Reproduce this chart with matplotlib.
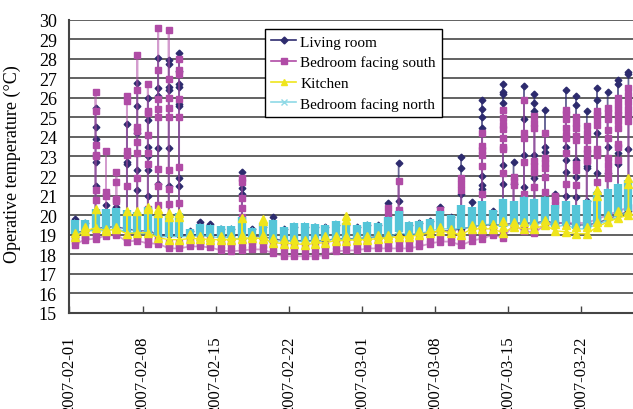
import matplotlib
matplotlib.use('Agg')
import matplotlib.pyplot as plt
import matplotlib.dates as mdates
from matplotlib.lines import Line2D
import pandas as pd

plt.rcParams['font.family'] = ['Liberation Serif', 'DejaVu Serif']

days = pd.date_range('2007-02-01', periods=54, freq='D')
tick_dates = pd.date_range('2007-02-01', '2007-03-22', freq='7D')

# readings per day (°C)
living = [
    [19.1, 19.8], [19.2, 19.6], [19.3, 21.5, 22.7, 23.9, 24.5, 25.5], [19.4, 20.5],
    [19.4, 20.4], [19.3, 22.6, 22.7, 24.65], [19.2, 21.3, 22.3, 24.2, 25.6, 26.75],
    [19.2, 21.0, 22.3, 23.0, 23.5, 24.85, 26.0], [19.0, 21.6, 23.45, 26.1, 26.5, 28.05],
    [19.0, 21.5, 23.45, 26.4, 26.55, 27.75, 27.95],
    [19.0, 21.5, 21.9, 25.6, 25.7, 26.55, 26.7, 27.35, 28.3],
    [19.0, 19.2], [19.0, 19.65], [19.0, 19.55], [18.95, 19.3], [18.95, 19.3],
    [19.0, 21.1, 21.4, 22.2], [18.95, 19.3], [18.9, 19.4], [18.8, 19.9],
    [18.7, 19.3], [18.7, 19.4], [18.7, 19.4], [18.7, 19.4], [18.7, 19.4],
    [18.8, 19.5], [18.8, 19.5], [18.8, 19.4], [18.85, 19.5], [18.9, 19.5],
    [18.9, 20.6], [19.0, 20.7, 22.65], [19.0, 19.5], [19.05, 19.6], [19.1, 19.7],
    [19.2, 20.4], [19.2, 19.9], [19.3, 21.1, 22.4, 22.97], [19.4, 20.65],
    [19.5, 21.35, 21.55, 22.0, 24.45, 25.0, 25.45, 25.87], [19.5, 20.2],
    [19.5, 21.6, 22.55, 25.75, 26.2, 26.3, 26.7], [19.6, 21.6, 22.7],
    [19.6, 21.45, 23.1, 24.9, 26.6], [19.6, 21.9, 23.1, 25.3, 25.75, 26.2],
    [19.7, 23.25, 23.5, 25.4], [19.6, 21.1],
    [19.6, 21.0, 22.2, 22.8, 23.5, 26.4], [19.5, 20.95, 21.97, 22.8, 25.65, 26.1],
    [19.5, 20.7, 22.4, 22.5, 23.0, 25.3], [19.6, 21.2, 22.15, 24.2, 25.9, 26.5],
    [19.8, 22.15, 23.5, 26.3], [20.0, 22.6, 23.2, 26.7, 26.9], [20.2, 23.4, 27.2, 27.3],
]
south = [
    [18.5, 18.7, 18.85], [18.75, 18.9, 19.0],
    [18.8, 19.0, 20.75, 21.3, 23.0, 23.1, 23.6, 25.3, 26.3],
    [18.95, 19.1, 21.0, 21.2, 23.3], [19.0, 19.1, 20.7, 20.85, 21.7, 22.2],
    [18.65, 18.9, 21.5, 23.1, 23.3, 25.85, 26.1],
    [18.7, 18.9, 21.9, 23.2, 23.75, 24.3, 24.5, 26.4, 28.2],
    [18.55, 18.75, 18.9, 20.3, 22.6, 23.2, 24.1, 25.2, 25.3, 26.7],
    [18.55, 18.7, 18.85, 20.5, 21.5, 22.35, 25.0, 25.45, 25.95, 27.4, 29.55],
    [18.3, 18.45, 18.6, 20.55, 21.35, 22.3, 25.0, 25.5, 26.0, 26.95, 29.45],
    [18.3, 18.45, 18.6, 20.6, 22.45, 25.0, 25.95, 27.2, 27.4, 28.0],
    [18.4, 18.6, 18.85], [18.4, 18.6, 18.85], [18.35, 18.55, 18.8], [18.2, 18.45, 18.7],
    [18.15, 18.4, 18.65], [18.2, 18.45, 18.75, 19.9, 20.35, 20.9, 21.7, 21.9],
    [18.25, 18.5, 18.7], [18.25, 18.5, 18.7], [18.05, 18.3, 18.6], [17.9, 18.15, 18.45],
    [17.9, 18.15, 18.45], [17.9, 18.15, 18.45], [17.9, 18.15, 18.45], [17.95, 18.2, 18.45],
    [18.15, 18.4, 18.7], [18.2, 18.45, 18.75], [18.2, 18.4, 18.65], [18.3, 18.5, 18.75],
    [18.3, 18.5, 18.75], [18.3, 18.5, 18.75, 20.0, 20.35],
    [18.3, 18.55, 18.8, 20.1, 20.25, 21.75], [18.3, 18.55, 18.8], [18.4, 18.65, 18.9],
    [18.55, 18.8, 19.05], [18.65, 18.9, 19.15, 20.25], [18.65, 18.9, 19.15],
    [18.45, 18.75, 19.05, 21.3, 21.6, 21.9], [18.7, 19.0, 19.4],
    [18.8, 19.0, 19.2, 21.1, 22.5, 23.1, 23.35, 23.55, 24.2], [19.0, 19.2],
    [18.85, 19.05, 22.15, 23.4, 23.5, 23.95, 24.4, 24.6, 24.97, 25.4],
    [19.5, 21.55, 21.75, 21.97], [19.2, 19.3, 21.1, 22.7, 23.95, 24.2, 25.9],
    [19.1, 19.4, 21.45, 22.2, 22.5, 22.75, 24.45, 24.7, 25.05],
    [19.5, 21.2, 21.97, 22.4, 22.65, 22.9, 24.2], [19.6, 20.5, 20.75, 21.0],
    [19.6, 21.6, 23.2, 23.95, 24.1, 24.45, 24.9, 25.15, 25.4],
    [19.6, 21.55, 22.3, 22.6, 23.85, 24.05, 24.45, 24.7, 25.0],
    [19.6, 22.75, 22.8, 23.2, 23.4, 23.85, 24.2, 24.55],
    [19.8, 21.7, 23.1, 23.25, 23.4, 24.6, 24.9, 25.1, 25.3],
    [20.0, 21.9, 22.2, 22.55, 22.9, 23.95, 24.35, 24.9, 25.2, 25.5],
    [20.2, 22.8, 23.5, 23.65, 24.45, 24.8, 25.1, 25.4, 25.7, 26.0],
    [20.4, 24.8, 25.1, 25.45, 25.8, 26.15, 26.5],
]
kitchen = [
    [18.9, 19.1], [19.2, 19.4], [19.35, 20.3], [19.2, 19.3], [19.3, 19.4],
    [19.05, 20.2], [19.1, 20.2], [19.1, 20.3, 20.4], [18.85, 20.1, 20.3],
    [18.75, 19.9, 20.1], [18.75, 19.9, 20.1], [18.8, 19.05], [18.8, 18.95],
    [18.75, 18.9], [18.75, 18.95], [18.75, 18.95], [18.8, 19.0, 19.85], [18.85, 19.0],
    [18.8, 19.0, 19.7, 19.8], [18.6, 18.85], [18.55, 18.8], [18.55, 18.8], [18.5, 18.75],
    [18.55, 18.85], [18.6, 18.95], [18.7, 18.95], [18.7, 18.95, 19.75, 19.95],
    [18.75, 18.95], [18.75, 18.95], [18.8, 19.0], [18.85, 19.0], [18.9, 19.05],
    [18.9, 19.05], [19.0, 19.2], [19.1, 19.3], [19.2, 19.4], [19.1, 19.3], [19.0, 19.2],
    [19.3, 19.5], [19.3, 19.55], [19.3, 19.55], [19.1, 19.4, 19.7], [19.4, 19.65],
    [19.3, 19.65], [19.3, 19.6], [19.5, 19.75], [19.2, 19.55], [19.15, 19.5],
    [19.05, 19.4], [19.05, 19.4], [19.4, 19.65, 21.0, 21.3], [19.65, 20.0],
    [19.85, 20.2], [20.0, 20.2, 21.6, 21.9],
]
north = [
    [19.05, 19.75], [19.2, 19.75], [19.2, 20.3], [19.2, 20.3], [19.3, 20.35],
    [19.15, 20.25], [19.05, 20.15], [19.05, 20.4], [18.9, 20.0], [18.9, 20.0],
    [18.9, 20.1], [18.9, 19.3], [18.95, 19.55], [18.9, 19.5], [18.85, 19.45],
    [18.85, 19.45], [18.75, 19.9], [18.85, 19.35], [18.8, 19.6], [18.6, 19.75],
    [18.75, 19.4], [18.65, 19.6], [18.65, 19.6], [18.65, 19.55], [18.7, 19.5],
    [18.8, 19.7], [18.75, 19.6], [18.8, 19.5], [18.8, 19.65], [18.9, 19.6],
    [18.8, 19.9], [19.15, 20.2], [18.95, 19.65], [19.05, 19.7], [19.2, 19.8],
    [19.3, 20.2], [19.3, 20.0], [19.3, 20.5], [19.4, 20.4], [19.5, 20.7],
    [19.55, 20.25], [19.4, 20.85], [19.55, 20.7], [19.5, 20.95], [19.5, 20.85],
    [19.65, 20.95], [19.4, 20.5], [19.5, 20.7], [19.3, 20.5], [19.3, 20.8],
    [19.55, 21.2], [19.7, 21.35], [19.9, 21.6], [20.2, 21.8],
]

c_living = '#2d2b6e'
c_south = '#b04ca6'
c_kitchen = '#efe51c'
c_north = '#55c5d8'

fig = plt.figure(figsize=(6.33, 4.10), dpi=100)
ax = fig.add_axes([69.4 / 633, 1 - 314 / 410, 564.3 / 633, 293.5 / 410])

xs = mdates.date2num(days) + 0.5


def day_path(readings):
    px, py = [], []
    for x, r in zip(xs, readings):
        px += [x, x, x]
        py += [min(r), max(r), min(r)]
    return px, py


def day_points(readings):
    px, py = [], []
    for x, r in zip(xs, readings):
        px += [x] * len(r)
        py += list(r)
    return px, py


# living room
lx, ly = day_path(living)
ax.plot(lx, ly, color=c_living, lw=1.0, alpha=0.7, zorder=3)
px, py = day_points(living)
ax.plot(px, py, ls='none', marker='D', ms=3.4, color=c_living, zorder=3)

# bedroom south
lx, ly = day_path(south)
ax.plot(lx, ly, color=c_south, lw=1.3, alpha=0.55, zorder=4)
px, py = day_points(south)
ax.plot(px, py, ls='none', marker='s', ms=5, color=c_south, zorder=4)

# bedroom north (dense hourly markers look like solid bars)
lx, ly = day_path(north)
ax.plot(lx, ly, color=c_north, lw=0.9, alpha=0.8, zorder=5)
for x, r in zip(xs, north):
    ax.plot([x, x], [min(r), max(r)], color=c_north, lw=6, solid_capstyle='butt', zorder=5)

# kitchen
lx, ly = day_path(kitchen)
ax.plot(lx, ly, color=c_kitchen, lw=1.0, zorder=6)
px, py = day_points(kitchen)
ax.plot(px, py, ls='none', marker='^', ms=6, color=c_kitchen, zorder=6)

ax.set_ylim(15, 30)
ax.set_yticks(range(15, 31))
ax.set_xlim(mdates.date2num(days[0]), mdates.date2num(days[-1]) + 1)
ax.set_xticks(mdates.date2num(tick_dates))
ax.xaxis.set_major_formatter(mdates.DateFormatter('%Y-%m-%d'))
ax.tick_params(axis='x', direction='in', length=5, width=1, color='#444444',
               labelrotation=90, labelsize=12, pad=16)
ax.tick_params(axis='y', length=0, labelsize=13, pad=9)
ax.grid(axis='y', color='#555555', lw=1.3)
ax.set_axisbelow(True)
for s in ['top', 'right']:
    ax.spines[s].set_visible(False)
for s in ['left', 'bottom']:
    ax.spines[s].set_color('#444444')
    ax.spines[s].set_linewidth(1.5)

ax.set_ylabel('Operative temperature (°C)', fontsize=13)
ax.yaxis.set_label_coords(-0.085, 0.51)

handles = [
    Line2D([], [], color=c_living, marker='D', ms=3.5, lw=1.2),
    Line2D([], [], color=c_south, marker='s', ms=4.5, lw=1.2),
    Line2D([], [], color=c_kitchen, marker='^', ms=5, lw=1.2),
    Line2D([], [], color='#8fd9e6', marker='x', ms=4, lw=1.2),
]
labels = ['Living room', 'Bedroom facing south', 'Kitchen', 'Bedroom facing north']
leg = ax.legend(handles, labels, loc='upper left', bbox_to_anchor=(0.347, 0.968),
                fontsize=11, frameon=True, fancybox=False, framealpha=1,
                edgecolor='black', handlelength=1.6, handletextpad=0.3,
                labelspacing=0.45, borderpad=0.4, borderaxespad=0)
leg.get_frame().set_linewidth(1.0)
leg.set_zorder(10)

fig.savefig('out.png', dpi=100)
